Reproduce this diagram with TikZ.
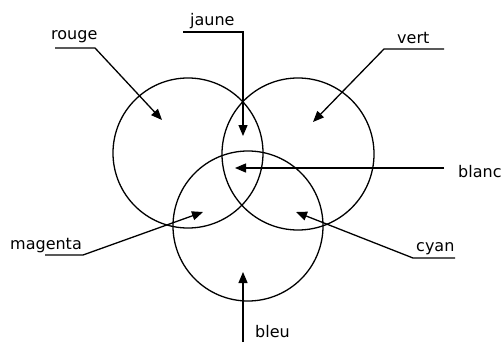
\documentclass[tikz,border=0pt]{standalone}
\usepackage{fontspec}
\setmainfont{DejaVu Sans}
\usetikzlibrary{arrows.meta}
\begin{document}
\begin{tikzpicture}[x=1pt,y=-1pt,
  ring/.style={draw,line width=1.3pt,circle,inner sep=0pt},
  lbl/.style={anchor=base west,inner sep=0pt,font=\fontsize{16}{18}\selectfont},
  lead/.style={line width=1.3pt,-{Triangle[length=11pt,width=9pt]}}]
\useasboundingbox (0,0) rectangle (502,342);
% circles
\node[ring,minimum size=150pt] (R) at (188,153) {};
\node[ring,minimum size=152pt] (V) at (298,154) {};
\node[ring,minimum size=150pt] (B) at (248,226) {};
% labels
\node[lbl] (tr) at (51,40) {rouge};
\node[lbl] (tj) at (190,26) {jaune};
\node[lbl] (tv) at (397,44) {vert};
\node[lbl] (tb) at (458,177) {blanc};
\node[lbl] (tm) at (10,249) {magenta};
\node[lbl] (tc) at (416,251) {cyan};
\node[lbl] (tbl) at (255,337) {bleu};
% leader points
\coordinate (r0) at (55,48);  \coordinate (r1) at (95,48);  \coordinate (rT) at (162,120);
\coordinate (j0) at (183,32); \coordinate (j1) at (243,32); \coordinate (jT) at (243,136);
\coordinate (v0) at (444,49); \coordinate (v1) at (384,49); \coordinate (vT) at (313,122);
\coordinate (b0) at (444,168); \coordinate (bT) at (235,168);
\coordinate (m0) at (45,255); \coordinate (m1) at (83,255); \coordinate (mT) at (203,212);
\coordinate (c0) at (455,258); \coordinate (c1) at (413,258); \coordinate (cT) at (296,212);
\coordinate (l0) at (243,342); \coordinate (lT) at (243,272);
% leaders
\draw[lead] (r0) -- (r1) -- (rT);
\draw[lead] (j0) -- (j1) -- (jT);
\draw[lead] (v0) -- (v1) -- (vT);
\draw[lead] (b0) -- (bT);
\draw[lead] (m0) -- (m1) -- (mT);
\draw[lead] (c0) -- (c1) -- (cT);
\draw[lead] (l0) -- (lT);
\end{tikzpicture}
\end{document}
